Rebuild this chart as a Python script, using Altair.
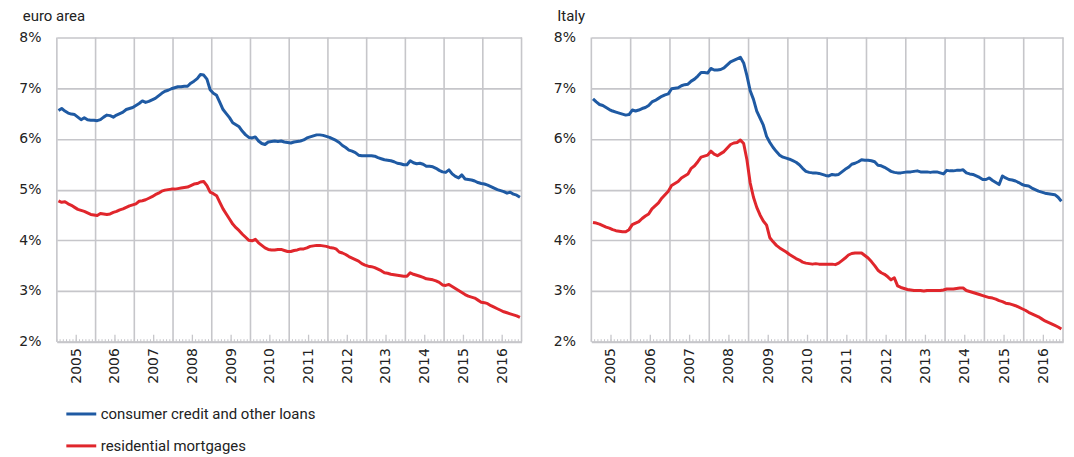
import altair as alt
import pandas as pd

# ---------------- data (monthly, Jan 2005 - Dec 2016, % per year) ----------------
years = list(range(2005, 2017))
panel_titles = ["euro area", "Italy"]
series_names = ["consumer credit and other loans", "residential mortgages"]
y_ticks = [2, 3, 4, 5, 6, 7, 8]

euro_consumer = [
    6.56, 6.60, 6.55, 6.51, 6.49, 6.48, 6.43, 6.38, 6.42, 6.38, 6.37, 6.37,
    6.36, 6.38, 6.43, 6.47, 6.46, 6.43, 6.47, 6.50, 6.53, 6.58, 6.60, 6.62,
    6.66, 6.70, 6.75, 6.72, 6.74, 6.77, 6.80, 6.85, 6.90, 6.94, 6.96, 6.99,
    7.01, 7.03, 7.03, 7.04, 7.04, 7.10, 7.14, 7.19, 7.27, 7.26, 7.18, 6.97,
    6.90, 6.86, 6.72, 6.58, 6.50, 6.42, 6.32, 6.28, 6.24, 6.15, 6.08, 6.03,
    6.02, 6.04, 5.96, 5.91, 5.89, 5.94, 5.95, 5.96, 5.95, 5.96, 5.94, 5.93,
    5.92, 5.94, 5.95, 5.96, 5.98, 6.02, 6.04, 6.06, 6.08, 6.08, 6.07, 6.05,
    6.03, 6.00, 5.97, 5.93, 5.87, 5.83, 5.78, 5.76, 5.73, 5.68, 5.67, 5.67,
    5.67, 5.67, 5.66, 5.63, 5.61, 5.59, 5.58, 5.57, 5.55, 5.52, 5.51, 5.49,
    5.49, 5.57, 5.53, 5.51, 5.52, 5.50, 5.46, 5.46, 5.45, 5.42, 5.38, 5.35,
    5.34, 5.39, 5.31, 5.26, 5.23, 5.29, 5.21, 5.20, 5.19, 5.17, 5.14, 5.12,
    5.11, 5.09, 5.06, 5.03, 5.00, 4.98, 4.96, 4.93, 4.95, 4.91, 4.89, 4.85,
]
euro_mortgage = [
    4.78, 4.75, 4.76, 4.72, 4.69, 4.65, 4.61, 4.59, 4.57, 4.54, 4.51, 4.50,
    4.49, 4.53, 4.52, 4.51, 4.52, 4.55, 4.57, 4.60, 4.62, 4.65, 4.68, 4.70,
    4.72, 4.77, 4.78, 4.80, 4.83, 4.86, 4.90, 4.93, 4.97, 4.99, 5.00, 5.01,
    5.01, 5.02, 5.03, 5.04, 5.05, 5.08, 5.11, 5.12, 5.15, 5.16, 5.08, 4.95,
    4.92, 4.88, 4.75, 4.62, 4.52, 4.42, 4.32, 4.25, 4.19, 4.12, 4.06, 4.00,
    3.99, 4.02, 3.95, 3.90, 3.85, 3.82, 3.81, 3.81, 3.82, 3.82, 3.80, 3.78,
    3.78, 3.80, 3.81, 3.83, 3.83, 3.85, 3.88, 3.89, 3.90, 3.90, 3.89, 3.88,
    3.86, 3.85, 3.83, 3.77, 3.75, 3.72, 3.68, 3.65, 3.62, 3.59, 3.54, 3.51,
    3.49, 3.48, 3.46, 3.43, 3.40, 3.36, 3.35, 3.33, 3.32, 3.31, 3.30, 3.29,
    3.29, 3.36, 3.33, 3.31, 3.29, 3.27, 3.24, 3.23, 3.22, 3.20, 3.17, 3.12,
    3.11, 3.13, 3.09, 3.05, 3.01, 2.97, 2.93, 2.90, 2.88, 2.86, 2.82, 2.78,
    2.77, 2.75, 2.71, 2.68, 2.65, 2.62, 2.59, 2.57, 2.55, 2.53, 2.51, 2.48,
]
italy_consumer = [
    6.79, 6.73, 6.68, 6.66, 6.62, 6.58, 6.55, 6.53, 6.51, 6.49, 6.47, 6.48,
    6.57, 6.55, 6.57, 6.60, 6.62, 6.66, 6.73, 6.76, 6.80, 6.84, 6.87, 6.89,
    6.99, 7.00, 7.01, 7.05, 7.07, 7.08, 7.14, 7.18, 7.24, 7.31, 7.31, 7.30,
    7.39, 7.36, 7.36, 7.37, 7.40, 7.46, 7.52, 7.55, 7.58, 7.61, 7.50, 7.25,
    6.95, 6.78, 6.55, 6.41, 6.27, 6.05, 5.93, 5.83, 5.75, 5.68, 5.64, 5.62,
    5.60, 5.57, 5.54, 5.49, 5.42, 5.36, 5.34, 5.33, 5.33, 5.32, 5.30, 5.28,
    5.27, 5.30, 5.29, 5.30, 5.35, 5.40, 5.44, 5.50, 5.52, 5.55, 5.59, 5.58,
    5.58, 5.57, 5.55, 5.48, 5.47, 5.44, 5.40, 5.36, 5.34, 5.33, 5.33, 5.34,
    5.35, 5.35, 5.36, 5.37, 5.35, 5.35, 5.35, 5.34, 5.35, 5.35, 5.33, 5.31,
    5.38, 5.37, 5.37, 5.38, 5.38, 5.39, 5.33, 5.31, 5.30, 5.27, 5.24, 5.20,
    5.20, 5.23, 5.18, 5.14, 5.10, 5.27, 5.23, 5.20, 5.19, 5.17, 5.14, 5.10,
    5.08, 5.07, 5.03, 5.00, 4.97, 4.95, 4.93, 4.92, 4.91, 4.90, 4.85, 4.77,
]
italy_mortgage = [
    4.35, 4.34, 4.32, 4.29, 4.26, 4.24, 4.21, 4.19, 4.18, 4.17, 4.17, 4.21,
    4.31, 4.34, 4.37, 4.43, 4.48, 4.52, 4.62, 4.68, 4.74, 4.83, 4.90, 4.97,
    5.08, 5.12, 5.16, 5.23, 5.27, 5.31, 5.42, 5.47, 5.55, 5.64, 5.66, 5.68,
    5.76, 5.70, 5.67, 5.71, 5.75, 5.82, 5.89, 5.92, 5.93, 5.98, 5.91, 5.59,
    5.13, 4.85, 4.65, 4.50, 4.38, 4.30, 4.05, 3.97, 3.90, 3.85, 3.81, 3.77,
    3.72, 3.68, 3.64, 3.61, 3.57, 3.55, 3.54, 3.53, 3.54, 3.53, 3.53, 3.53,
    3.53, 3.53, 3.52, 3.55, 3.60, 3.65, 3.71, 3.74, 3.75, 3.75, 3.75, 3.70,
    3.65, 3.58, 3.50, 3.41, 3.36, 3.33, 3.28, 3.22, 3.26, 3.10, 3.07, 3.05,
    3.03, 3.02, 3.01, 3.01, 3.01, 3.00, 3.01, 3.01, 3.01, 3.01, 3.01, 3.02,
    3.04, 3.04, 3.04, 3.05, 3.06, 3.06, 3.01, 2.99, 2.97, 2.95, 2.93, 2.91,
    2.89, 2.87, 2.86, 2.84, 2.81, 2.79, 2.76, 2.75, 2.73, 2.71, 2.68, 2.65,
    2.62, 2.58, 2.55, 2.52, 2.49, 2.45, 2.41, 2.38, 2.35, 2.32, 2.29, 2.25,
]

# ---------------- styling ----------------
BLUE = "#1f5aa3"
RED = "#e0262c"
GRID = "#c6c6ca"
TEXT = "#222222"
H = 305
TICK_FONT = "DejaVu Sans"
TEXT_FONT = "Roboto"

x0, x1 = years[0], years[-1] + 1
x_scale = alt.Scale(domain=[x0, x1], nice=False, zero=False)
y_scale = alt.Scale(domain=[y_ticks[0], y_ticks[-1]], nice=False, zero=False)
color_scale = alt.Scale(domain=series_names, range=[BLUE, RED])

month_t = [y + (m + 0.5) / 12 for y in years for m in range(12)]
year_bounds = pd.DataFrame({"t": list(range(x0, x1 + 1))})
month_bounds = pd.DataFrame({"t": [x0 + k / 12 for k in range(0, 12 * len(years) + 1)]})
mid_years = pd.DataFrame({"t": [y + 0.5 for y in years]})

x_axis = alt.Axis(
    values=[y + 0.5 for y in years],
    labelExpr="'' + floor(datum.value)",
    labelAngle=270, labelFont=TICK_FONT, labelFontSize=14, labelColor=TEXT,
    labelPadding=6, labelFlush=False, labelOverlap=False,
    grid=False, ticks=False, domainColor=GRID, domainWidth=2,
)


def xenc():
    return alt.X("t:Q", scale=x_scale, title=None, axis=x_axis)


def panel(title, consumer, mortgage, width, legend):
    df = pd.DataFrame({
        "t": month_t * 2,
        "v": consumer + mortgage,
        "series": [series_names[0]] * len(consumer) + [series_names[1]] * len(mortgage),
    })
    vgrid = alt.Chart(year_bounds).mark_rule(color=GRID, strokeWidth=1.6).encode(
        x=xenc(), y=alt.value(0), y2=alt.value(H),
    )
    minor = alt.Chart(month_bounds).mark_rule(color=GRID, strokeWidth=1).encode(
        x=xenc(), y=alt.value(H), y2=alt.value(H - 2.5),
    )
    major = alt.Chart(mid_years).mark_rule(color=GRID, strokeWidth=1.3).encode(
        x=xenc(), y=alt.value(H), y2=alt.value(H - 7),
    )
    lines = alt.Chart(df).mark_line(strokeWidth=3, strokeJoin="round").encode(
        x=xenc(),
        y=alt.Y("v:Q", scale=y_scale, title=None, axis=alt.Axis(
            values=y_ticks, labelExpr="datum.value + '%'",
            labelFont=TICK_FONT, labelFontSize=14, labelColor=TEXT, labelPadding=16,
            grid=True, gridColor=GRID, gridWidth=1.6, ticks=False, domain=False,
        )),
        color=alt.Color("series:N", scale=color_scale, legend=legend),
        order=alt.Order("t:Q"),
    )
    return alt.layer(vgrid, minor, major, lines).properties(
        width=width, height=H,
        title=alt.TitleParams(title, anchor="start", font=TEXT_FONT, fontSize=15,
                              fontWeight="normal", color=TEXT, offset=7, dx=4),
    )


legend = alt.Legend(
    orient="none", legendX=8, legendY=361, direction="vertical", title=None,
    symbolType="stroke", symbolSize=900, symbolStrokeWidth=3,
    labelFont=TEXT_FONT, labelFontSize=15, labelColor=TEXT, labelOffset=3,
    labelLimit=0, rowPadding=7, padding=0,
)

left = panel(panel_titles[0], euro_consumer, euro_mortgage, 466, legend)
right = panel(panel_titles[1], italy_consumer, italy_mortgage, 473, None)

chart = alt.hconcat(left, right, spacing=30).resolve_legend(color="independent").properties(
    padding={"left": 10, "top": 0, "right": 2, "bottom": 2},
    background="white",
).configure_view(stroke=None)

chart.save("out.html", embed_options={"renderer": "svg", "actions": False})
